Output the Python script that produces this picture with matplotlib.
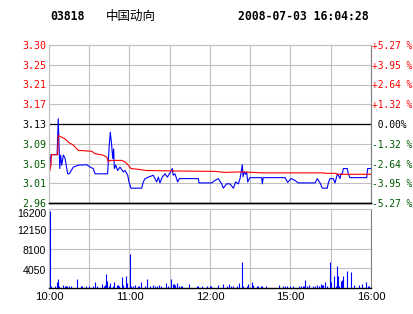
import matplotlib
matplotlib.use("Agg")
import matplotlib.pyplot as plt
import matplotlib.transforms as mtransforms
import numpy as np

# minutes after 10:00 (lunch break removed: 12:30 -> 14:30)
price_min = [0, 1.5, 6, 6.3, 6.9, 8, 8.7, 9.5, 10.7, 11.9, 13.9, 15.1, 18.1, 21.8, 28.1, 30.6,
             33, 34.3, 43.7, 44.2, 44.9, 45.7, 46.7, 47.5, 48.2, 48.7, 49.7, 51.2, 52.9, 55.4,
             56.6, 58.7, 59.6, 61.1, 69.1, 70.3, 71.6, 74, 77.7, 80.3, 81.5, 82.7, 84.4, 86.5,
             88.2, 90.7, 91.9, 92.6, 93.9, 95.9, 97.1, 111.3, 111.8, 121.3, 123.7, 126.2, 128.7,
             129.9, 132.4, 134.9, 137.4, 139.1, 141.1, 142.4, 144.1, 144.6, 145.6, 146.6, 147.3,
             148.1, 149.8, 158.5, 159.0, 159.7, 175.9, 177.9, 180.4, 182.8, 185.8, 198.3, 200.0,
             202.0, 203.7, 207.4, 208.2, 209.4, 211.9, 213.2, 214.4, 215.2, 216.9, 217.6, 218.6,
             219.4, 222.3, 223.1, 224.3, 236.8, 237.5, 240]
price_val = [3.026, 3.066, 3.066, 3.086, 3.141, 3.037, 3.065, 3.044, 3.065, 3.059, 3.026, 3.026,
             3.040, 3.044, 3.045, 3.040, 3.037, 3.026, 3.026, 3.051, 3.086, 3.113, 3.086, 3.058,
             3.078, 3.037, 3.044, 3.033, 3.040, 3.030, 3.033, 3.023, 3.009, 2.996, 2.996, 3.009,
             3.016, 3.019, 3.023, 3.009, 3.019, 3.007, 3.019, 3.026, 3.019, 3.030, 3.037, 3.023,
             3.026, 3.009, 3.016, 3.016, 3.007, 3.007, 3.012, 3.016, 3.005, 2.996, 3.005, 3.005,
             2.996, 3.009, 3.005, 3.016, 3.045, 3.020, 3.030, 3.025, 3.030, 3.009, 3.018, 3.018,
             3.005, 3.018, 3.018, 3.008, 3.016, 3.013, 3.007, 3.007, 3.016, 3.007, 2.996, 2.996,
             3.007, 3.016, 3.016, 3.007, 3.020, 3.026, 3.016, 3.026, 3.026, 3.037, 3.037, 3.026,
             3.018, 3.018, 3.037, 3.037]

avg_min = [0, 1.5, 1.7, 6.5, 6.9, 11.9, 14.4, 18.1, 21.8, 31.8, 34.3, 40.2, 43.0, 44.2, 45.5,
           54.2, 56.6, 59.1, 61.1, 67.8, 71.6, 91.4, 123.7, 131.2, 143.8, 158.8, 205.0, 205.3,
           213.9, 214.3, 240]
avg_val = [3.026, 3.044, 3.066, 3.066, 3.106, 3.099, 3.092, 3.086, 3.075, 3.073, 3.068, 3.065,
           3.061, 3.051, 3.054, 3.054, 3.051, 3.044, 3.037, 3.035, 3.033, 3.032, 3.031, 3.029,
           3.030, 3.028, 3.028, 3.027, 3.027, 3.025, 3.025]

vol_min = [0.7, 1.2, 4.5, 6.2, 7.0, 7.5, 10.7, 11.9, 12.7, 13.4, 14.9, 16.4, 21.1, 23.8, 24.6,
           27.6, 29.8, 33.0, 34.5, 36.0, 39.7, 41.2, 42.0, 42.7, 43.5, 45.0, 45.7, 47.9, 48.7,
           50.9, 51.7, 52.4, 54.7, 55.4, 57.6, 58.1, 60.6, 61.4, 62.6, 64.1, 66.6, 67.3, 68.8,
           71.8, 73.3, 75.5, 77.8, 79.2, 80.7, 82.2, 83.7, 87.4, 88.9, 91.2, 92.7, 93.4, 94.2,
           95.6, 97.1, 98.6, 99.4, 104.6, 110.5, 111.3, 114.3, 118.0, 120.2, 121.0, 126.2,
           130.0, 132.4, 134.4, 135.4, 137.4, 139.9, 141.8, 144.1, 144.8, 147.3, 148.1, 151.1,
           152.3, 155.3, 156.0, 158.0, 158.8, 161.7, 171.2, 174.6, 175.9, 177.6, 179.6, 182.1,
           186.6, 187.6, 189.1, 190.1, 191.1, 192.1, 194.1, 197.0, 198.3, 200.0, 201.5, 203.0,
           203.7, 204.5, 206.0, 207.0, 209.4, 210.2, 212.4, 213.7, 214.9, 215.6, 216.4, 217.9,
           218.6, 219.4, 222.3, 224.8, 227.5, 231.3, 233.5, 236.5, 237.5, 238.8]
vol_val = [15800, 410, 410, 1300, 1850, 410, 600, 410, 410, 410, 410, 410, 1850, 410, 410,
           410, 410, 410, 1160, 410, 820, 410, 615, 2870, 1435, 410, 950, 410, 1160,
           615, 615, 410, 2255, 615, 2460, 1025, 6970, 410, 410, 615, 410, 410, 1160,
           410, 1850, 410, 615, 410, 410, 615, 410, 1025, 410, 1850, 820, 820, 615,
           1025, 410, 410, 410, 820, 410, 410, 410, 410, 410, 410, 680,
           890, 480, 890, 480, 480, 480, 1025, 5260, 480, 480, 890, 1300,
           680, 480, 480, 480, 480, 480, 680, 480, 480, 480, 480, 480,
           480, 480, 480, 480, 1710, 480, 680, 480, 480, 680, 480, 890,
           680, 680, 1160, 480, 5260, 1160, 2390, 480, 4440, 2530, 480, 1370,
           1710, 2530, 3420, 3210, 680, 680, 890, 1300, 480, 480]

prev_close = 3.13
left_labels = ["3.30", "3.25", "3.21", "3.17", "3.13", "3.09", "3.05", "3.01", "2.96"]
right_labels = ["+5.27 %", "+3.95 %", "+2.64 %", "+1.32 %", " 0.00%",
                "-1.32 %", "-2.64 %", "-3.95 %", "-5.27 %"]
vol_ticks = [0, 4050, 8100, 12150, 16200]
vol_labels = ["", "4050", "8100", "12150", "16200"]
time_ticks = [0, 60, 120, 180, 240]
time_labels = ["10:00", "11:00", "12:00", "15:00", "16:00"]

RED = "#ff0000"
GREEN = "#005a00"
GRID = "#c0c0c0"
MONO = "DejaVu Sans Mono"

W, H = 414, 314
fig = plt.figure(figsize=(W / 100, H / 100), dpi=100)
fig.patch.set_facecolor("white")

def box(l, t, r, b):
    return [l / W, 1 - b / H, (r - l) / W, (b - t) / H]

ax = fig.add_axes(box(49, 45, 371, 203))
axv = fig.add_axes(box(49, 209, 371, 288))

# ---- price panel
half = prev_close * 0.0527
levels = np.linspace(prev_close + half, prev_close - half, 9)
ax.set_xlim(0, 240)
ax.set_ylim(prev_close - half, prev_close + half)
for m in range(30, 240, 30):
    ax.axvline(m, color=GRID, lw=0.8, zorder=1)
for lv in levels[1:-1]:
    ax.axhline(lv, color=GRID, lw=0.8, zorder=1)
ax.axhline(prev_close, color="black", lw=0.9, zorder=2)
ax.plot(price_min, price_val, color="#0000ff", lw=0.8, zorder=3)
ax.plot(avg_min, avg_val, color=RED, lw=0.8, zorder=4)

ax.set_xticks([])
ax.set_yticks(levels)
ax.set_yticklabels(left_labels, family=MONO, fontsize=7.2)
ax.tick_params(axis="y", length=0, pad=2)
for i, t in enumerate(ax.get_yticklabels()):
    t.set_color(RED if i < 4 else ("black" if i == 4 else GREEN))

axr = ax.twinx()
axr.set_ylim(ax.get_ylim())
axr.set_yticks(levels)
axr.set_yticklabels(right_labels, family=MONO, fontsize=6.9)
axr.tick_params(axis="y", length=0, pad=0.5)
for i, t in enumerate(axr.get_yticklabels()):
    t.set_color(RED if i < 4 else ("black" if i == 4 else GREEN))

for a in (ax, axr):
    a.spines["left"].set_color(GRID)
    a.spines["top"].set_color(GRID)
    a.spines["right"].set_color("#808080")
    a.spines["bottom"].set_color("black")
    a.spines["bottom"].set_linewidth(1.0)

# ---- volume panel
axv.set_xlim(0, 240)
axv.set_ylim(0, 16200)
for m in range(30, 240, 30):
    axv.axvline(m, color=GRID, lw=0.8, zorder=1)
for v in vol_ticks[1:-1]:
    axv.axhline(v, color=GRID, lw=0.8, zorder=1)
axv.vlines(vol_min, 0, vol_val, color="#0000ff", lw=0.8, zorder=3)
axv.set_yticks(vol_ticks)
axv.set_yticklabels(vol_labels, family="Liberation Sans", fontsize=7.6)
axv.set_xticks(time_ticks)
axv.set_xticklabels(time_labels, family="Liberation Sans", fontsize=8.2)
axv.tick_params(length=0, pad=2)
axv.tick_params(axis="x", pad=3)
for i, t in enumerate(axv.get_yticklabels()):
    shift = -4 if i == len(vol_ticks) - 1 else -1.5
    t.set_transform(t.get_transform() + mtransforms.ScaledTranslation(0, shift / 100, fig.dpi_scale_trans))
axv.spines["left"].set_color(GRID)
axv.spines["top"].set_color(GRID)
axv.spines["right"].set_color("#808080")
axv.spines["bottom"].set_color("black")
axv.spines["bottom"].set_linewidth(1.0)

# ---- header
fig.text(50 / W, 1 - 16 / H, "03818", family=MONO, weight="bold", fontsize=8.3, va="center")
fig.text(106 / W, 1 - 16 / H, "中国动向", family=["Noto Sans CJK SC", "DejaVu Sans"],
         fontsize=9, va="center")
fig.text(238 / W, 1 - 16 / H, "2008-07-03 16:04:28", family=MONO, weight="bold",
         fontsize=8.3, va="center")

fig.savefig("out.png", dpi=100)
